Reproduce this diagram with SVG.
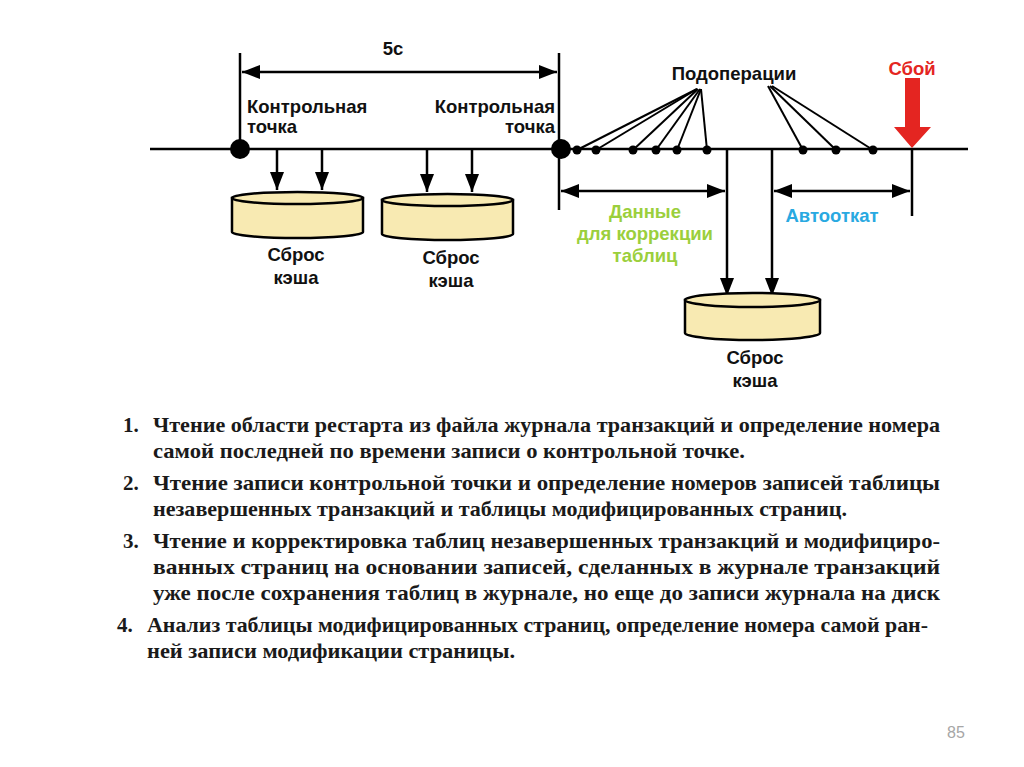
<svg xmlns="http://www.w3.org/2000/svg" width="1024" height="767" viewBox="0 0 1024 767">
<defs>
<marker id="ah" viewBox="0 0 18 14" refX="18" refY="7" markerWidth="18" markerHeight="14" markerUnits="userSpaceOnUse" orient="auto-start-reverse">
<path d="M0,0 L18,7 L0,14 Z" fill="#000"/>
</marker>
<style>
.ln{stroke:#000;stroke-width:2.5;fill:none}
.thin{stroke:#000;stroke-width:2;fill:none}
.cyl{fill:#f8eab2;stroke:#000;stroke-width:2.5}
.lb{font-family:"Liberation Sans",Arial,sans-serif;font-weight:bold;font-size:18.5px;fill:#111}
.mid{text-anchor:middle}
.tx{font-family:"Liberation Serif","Times New Roman",serif;font-weight:bold;font-size:21px;fill:#1a1a1a}
</style>
</defs>
<rect width="1024" height="767" fill="#fff"/>

<g id="connectors">
<line class="ln" x1="150" y1="149" x2="968" y2="149" stroke-width="3"/>
<line class="ln" x1="240" y1="53" x2="240" y2="149"/>
<line class="ln" x1="559" y1="53" x2="559" y2="210"/>
<line class="ln" x1="242" y1="72" x2="557" y2="72" marker-start="url(#ah)" marker-end="url(#ah)"/>
<line class="ln" x1="277" y1="149" x2="277" y2="190" marker-end="url(#ah)"/>
<line class="ln" x1="322" y1="149" x2="322" y2="190" marker-end="url(#ah)"/>
<line class="ln" x1="427" y1="149" x2="427" y2="192" marker-end="url(#ah)"/>
<line class="ln" x1="472" y1="149" x2="472" y2="192" marker-end="url(#ah)"/>
<line class="thin" x1="697" y1="89" x2="577" y2="150"/>
<line class="thin" x1="697" y1="89" x2="596" y2="150"/>
<line class="thin" x1="698" y1="89" x2="633" y2="150"/>
<line class="thin" x1="700" y1="89" x2="656" y2="150"/>
<line class="thin" x1="701" y1="89" x2="677" y2="150"/>
<line class="thin" x1="701" y1="89" x2="707" y2="150"/>
<line class="thin" x1="768" y1="86" x2="803" y2="150"/>
<line class="thin" x1="770" y1="86" x2="836" y2="150"/>
<line class="thin" x1="772" y1="86" x2="873" y2="150"/>
<line class="ln" x1="727" y1="149" x2="727" y2="296" marker-end="url(#ah)"/>
<line class="ln" x1="772" y1="149" x2="772" y2="296" marker-end="url(#ah)"/>
<line class="ln" x1="912" y1="149" x2="912" y2="216"/>
<line class="ln" x1="561" y1="191" x2="725" y2="191" marker-start="url(#ah)" marker-end="url(#ah)"/>
<line class="ln" x1="774" y1="191" x2="910" y2="191" marker-start="url(#ah)" marker-end="url(#ah)"/>
<polygon points="905,78 920,78 920,127 931,127 912,148 894,127 905,127" fill="#e42521"/>
</g>

<g id="checkpoint1">
<circle cx="240" cy="149" r="10" fill="#000"/>
<text class="lb" x="247" y="113">Контрольная</text>
<text class="lb" x="247" y="133">точка</text>
</g>
<g id="checkpoint2">
<circle cx="561" cy="149" r="10" fill="#000"/>
<text class="lb" x="555" y="113" text-anchor="end">Контрольная</text>
<text class="lb" x="555" y="133" text-anchor="end">точка</text>
</g>
<g id="interval">
<text class="lb mid" x="393" y="55">5с</text>
</g>
<g id="suboperations">
<circle cx="577" cy="150" r="4.5"/>
<circle cx="596" cy="150" r="4.5"/>
<circle cx="633" cy="150" r="4.5"/>
<circle cx="656" cy="150" r="4.5"/>
<circle cx="677" cy="150" r="4.5"/>
<circle cx="707" cy="150" r="4.5"/>
<circle cx="803" cy="150" r="4.5"/>
<circle cx="836" cy="150" r="4.5"/>
<circle cx="873" cy="150" r="4.5"/>
<text class="lb mid" x="734" y="80">Подоперации</text>
</g>
<g id="failure">
<text class="lb mid" x="912" y="75" style="fill:#e42521">Сбой</text>
</g>
<g id="data-label">
<text class="lb mid" x="645" y="218" style="fill:#9bcf3c">Данные</text>
<text class="lb mid" x="645" y="240" style="fill:#9bcf3c">для коррекции</text>
<text class="lb mid" x="645" y="262" style="fill:#9bcf3c">таблиц</text>
</g>
<g id="rollback-label">
<text class="lb mid" x="832" y="222" style="fill:#29a9e1">Автооткат</text>
</g>

<g id="cache1">
<path class="cyl" d="M232,198 L232,232 A65.5,6 0 0 0 363,232 L363,198 Z"/>
<ellipse class="cyl" cx="297.5" cy="198" rx="65.5" ry="6"/>
<text class="lb mid" x="296" y="261">Сброс</text>
<text class="lb mid" x="296" y="284">кэша</text>
</g>
<g id="cache2">
<path class="cyl" d="M382,200 L382,234 A65.5,6 0 0 0 513,234 L513,200 Z"/>
<ellipse class="cyl" cx="447.5" cy="200" rx="65.5" ry="6"/>
<text class="lb mid" x="451" y="264">Сброс</text>
<text class="lb mid" x="451" y="287">кэша</text>
</g>
<g id="cache3">
<path class="cyl" d="M685,300 L685,333 A67.5,7 0 0 0 820,333 L820,300 Z"/>
<ellipse class="cyl" cx="752.5" cy="300" rx="67.5" ry="7"/>
<text class="lb mid" x="755" y="364">Сброс</text>
<text class="lb mid" x="755" y="387">кэша</text>
</g>

<g id="steps">
<text class="tx" x="123" y="432">1.</text>
<text class="tx" x="153" y="432" textLength="787" lengthAdjust="spacingAndGlyphs">Чтение области рестарта из файла журнала транзакций и определение номера</text>
<text class="tx" x="153" y="458" textLength="592" lengthAdjust="spacingAndGlyphs">самой последней по времени записи о контрольной точке.</text>
<text class="tx" x="123" y="490">2.</text>
<text class="tx" x="153" y="490" textLength="787" lengthAdjust="spacingAndGlyphs">Чтение записи контрольной точки и определение номеров записей таблицы</text>
<text class="tx" x="153" y="516" textLength="694" lengthAdjust="spacingAndGlyphs">незавершенных транзакций и таблицы модифицированных страниц.</text>
<text class="tx" x="123" y="548">3.</text>
<text class="tx" x="153" y="548" textLength="787" lengthAdjust="spacingAndGlyphs">Чтение и корректировка таблиц незавершенных транзакций и модифициро-</text>
<text class="tx" x="153" y="574" textLength="787" lengthAdjust="spacingAndGlyphs">ванных страниц на основании записей, сделанных в журнале транзакций</text>
<text class="tx" x="153" y="600" textLength="787" lengthAdjust="spacingAndGlyphs">уже после сохранения таблиц в журнале, но еще до записи журнала на диск</text>
<text class="tx" x="117" y="632">4.</text>
<text class="tx" x="147" y="632" textLength="781" lengthAdjust="spacingAndGlyphs">Анализ таблицы модифицированных страниц, определение номера самой ран-</text>
<text class="tx" x="147" y="658" textLength="368" lengthAdjust="spacingAndGlyphs">ней записи модификации страницы.</text>
</g>

<g id="page-number">
<text x="947" y="738" font-family="'Liberation Sans',Arial,sans-serif" font-size="16" fill="#a6a6a6">85</text>
</g>
</svg>
